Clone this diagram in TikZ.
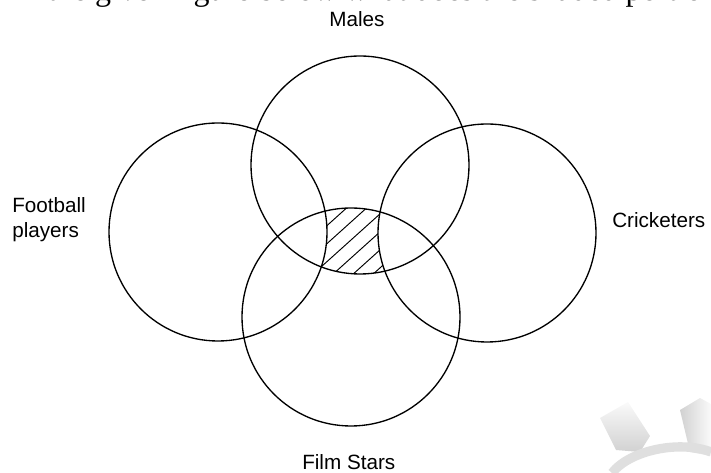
\documentclass[tikz,border=0pt]{standalone}
\usepackage{fontspec}
\setmainfont{Liberation Serif}
\setsansfont{Liberation Sans}
\begin{document}
\begin{tikzpicture}[x=0.75pt,y=-0.75pt,
  setcircle/.style={circle,draw,line width=1pt,minimum size=163.5pt,inner sep=0pt},
  setlabel/.style={font=\sffamily\fontsize{15.5}{18.5}\selectfont,inner sep=0pt},
  hatch/.style={line width=0.7pt}]
\useasboundingbox (0,0) rectangle (711,473);
% question line, cut off at the top
\begin{scope}
\clip (0,0) rectangle (711,40);
\node[anchor=base west,inner sep=0pt,font=\rmfamily\fontsize{24}{28}\selectfont] (question) at (13,1) {In the given figure below what does the shaded portion represent?};
\end{scope}
% shaded part
\begin{scope}
\clip (360,165) circle[radius=81.75pt];
\clip (351,317) circle[radius=81.75pt];
\foreach \c in {291,311,...,451}
  \draw[hatch] (\c-70,303) -- (\c+70,177);
\fill[white] (218,232) circle[radius=81.75pt];
\fill[white] (487,233) circle[radius=81.75pt];
\end{scope}
% sets
\node[setcircle] (males) at (360,165) {};
\node[setcircle] (football) at (218,232) {};
\node[setcircle] (cricketers) at (487,233) {};
\node[setcircle] (filmstars) at (351,317) {};
% labels
\node[setlabel,anchor=base] (maleslabel) at (357,27) {Males};
\node[setlabel,anchor=base west] (footballlabel) at (12,213) {Football};
\node[setlabel,anchor=base west] (playerslabel) at (12,238) {players};
\node[setlabel,anchor=base west] (cricketerslabel) at (612,228) {Cricketers};
\node[setlabel,anchor=base west] (filmstarslabel) at (302,470) {Film Stars};
% faint logo in the corner
\begin{scope}
\clip (0,0) rectangle (711,473);
\shade[top color=gray!5,bottom color=gray!45,opacity=0.8] (600,418) -- (628,402) -- (650,436) -- (640,452) -- (616,450) -- cycle;
\shade[left color=gray!45,right color=gray!5,opacity=0.8] (680,410) -- (700,398) -- (711,404) -- (711,456) -- (690,452) -- cycle;
\draw[line width=7pt,gray!25] (612,473) .. controls (630,450) and (680,440) .. (711,452);
\end{scope}
\end{tikzpicture}
\end{document}
